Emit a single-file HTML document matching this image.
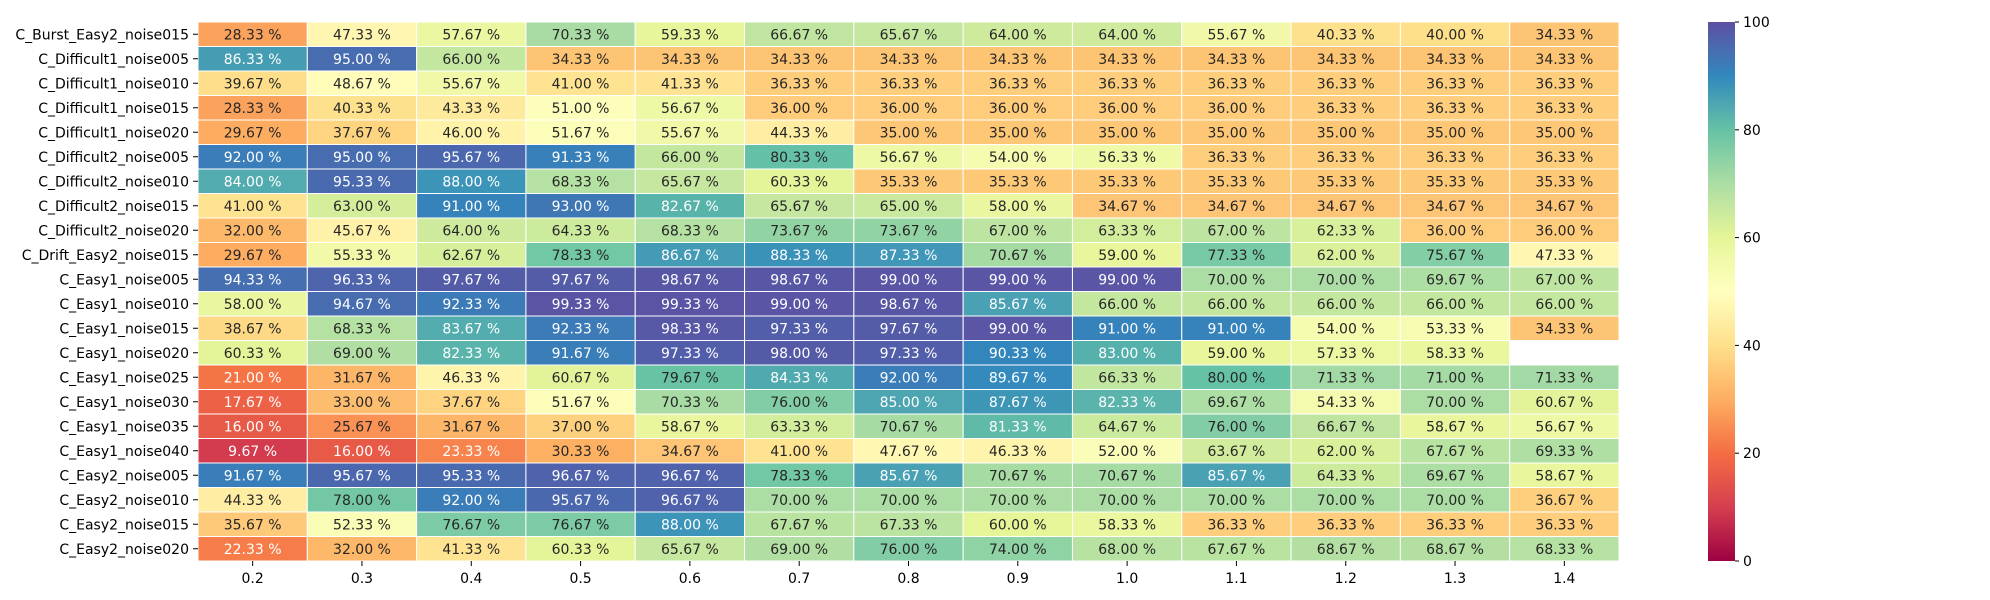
<!DOCTYPE html>
<html><head><meta charset="utf-8"><style>
body{margin:0;background:#fff;}
svg{display:block;font-family:"DejaVu Sans","Liberation Sans",sans-serif;}
</style></head><body>
<svg id="chart" width="1990" height="600"></svg>
<script>
const rowLabels=["C_Burst_Easy2_noise015","C_Difficult1_noise005","C_Difficult1_noise010","C_Difficult1_noise015","C_Difficult1_noise020","C_Difficult2_noise005","C_Difficult2_noise010","C_Difficult2_noise015","C_Difficult2_noise020","C_Drift_Easy2_noise015","C_Easy1_noise005","C_Easy1_noise010","C_Easy1_noise015","C_Easy1_noise020","C_Easy1_noise025","C_Easy1_noise030","C_Easy1_noise035","C_Easy1_noise040","C_Easy2_noise005","C_Easy2_noise010","C_Easy2_noise015","C_Easy2_noise020"];
const colLabels=["0.2","0.3","0.4","0.5","0.6","0.7","0.8","0.9","1.0","1.1","1.2","1.3","1.4"];
const values=[
[28.33,47.33,57.67,70.33,59.33,66.67,65.67,64.00,64.00,55.67,40.33,40.00,34.33],
[86.33,95.00,66.00,34.33,34.33,34.33,34.33,34.33,34.33,34.33,34.33,34.33,34.33],
[39.67,48.67,55.67,41.00,41.33,36.33,36.33,36.33,36.33,36.33,36.33,36.33,36.33],
[28.33,40.33,43.33,51.00,56.67,36.00,36.00,36.00,36.00,36.00,36.33,36.33,36.33],
[29.67,37.67,46.00,51.67,55.67,44.33,35.00,35.00,35.00,35.00,35.00,35.00,35.00],
[92.00,95.00,95.67,91.33,66.00,80.33,56.67,54.00,56.33,36.33,36.33,36.33,36.33],
[84.00,95.33,88.00,68.33,65.67,60.33,35.33,35.33,35.33,35.33,35.33,35.33,35.33],
[41.00,63.00,91.00,93.00,82.67,65.67,65.00,58.00,34.67,34.67,34.67,34.67,34.67],
[32.00,45.67,64.00,64.33,68.33,73.67,73.67,67.00,63.33,67.00,62.33,36.00,36.00],
[29.67,55.33,62.67,78.33,86.67,88.33,87.33,70.67,59.00,77.33,62.00,75.67,47.33],
[94.33,96.33,97.67,97.67,98.67,98.67,99.00,99.00,99.00,70.00,70.00,69.67,67.00],
[58.00,94.67,92.33,99.33,99.33,99.00,98.67,85.67,66.00,66.00,66.00,66.00,66.00],
[38.67,68.33,83.67,92.33,98.33,97.33,97.67,99.00,91.00,91.00,54.00,53.33,34.33],
[60.33,69.00,82.33,91.67,97.33,98.00,97.33,90.33,83.00,59.00,57.33,58.33,null],
[21.00,31.67,46.33,60.67,79.67,84.33,92.00,89.67,66.33,80.00,71.33,71.00,71.33],
[17.67,33.00,37.67,51.67,70.33,76.00,85.00,87.67,82.33,69.67,54.33,70.00,60.67],
[16.00,25.67,31.67,37.00,58.67,63.33,70.67,81.33,64.67,76.00,66.67,58.67,56.67],
[9.67,16.00,23.33,30.33,34.67,41.00,47.67,46.33,52.00,63.67,62.00,67.67,69.33],
[91.67,95.67,95.33,96.67,96.67,78.33,85.67,70.67,70.67,85.67,64.33,69.67,58.67],
[44.33,78.00,92.00,95.67,96.67,70.00,70.00,70.00,70.00,70.00,70.00,70.00,36.67],
[35.67,52.33,76.67,76.67,88.00,67.67,67.33,60.00,58.33,36.33,36.33,36.33,36.33],
[22.33,32.00,41.33,60.33,65.67,69.00,76.00,74.00,68.00,67.67,68.67,68.67,68.33]];
const cbTicks=[0,20,40,60,80,100];

const stops=["#9e0142","#d53e4f","#f46d43","#fdae61","#fee08b","#ffffbf","#e6f598","#abdda4","#66c2a5","#3288bd","#5e4fa2"].map(h=>[1,3,5].map(i=>parseInt(h.substr(i,2),16)));
function cmap(v){let t=Math.max(0,Math.min(1,v/100))*10;let i=Math.min(9,Math.floor(t));let f=t-i;return stops[i].map((c,k)=>Math.round(c+(stops[i+1][k]-c)*f));}
function lum(c){const l=c.map(x=>{x/=255;return x<=0.03928?x/12.92:Math.pow((x+0.055)/1.055,2.4)});return 0.2126*l[0]+0.7152*l[1]+0.0722*l[2];}
const NS="http://www.w3.org/2000/svg";
const svg=document.getElementById('chart');
function el(t,a,p){const e=document.createElementNS(NS,t);for(const k in a)e.setAttribute(k,a[k]);(p||svg).appendChild(e);return e;}
const X0=198,X1=1619,Y0=22,Y1=561;
const cw=(X1-X0)/colLabels.length,ch=(Y1-Y0)/rowLabels.length;
const xs=j=>X0+j*cw, ys=i=>Y0+i*ch;
const g=el('g',{});


values.forEach((row,i)=>row.forEach((v,j)=>{
  if(v===null)return;
  const c=cmap(v);
  const r=el('rect',{x:xs(j),y:ys(i),width:cw,height:ch,fill:`rgb(${c})`,stroke:'#fff','stroke-width':1},g);
  
  
  const t=el('text',{x:xs(j)+cw/2,y:ys(i)+ch/2+5,'text-anchor':'middle','font-size':14,fill:lum(c)>0.408?'#262626':'#ffffff'},g);
  
  
  t.textContent=v.toFixed(2)+' %';
}));
rowLabels.forEach((l,i)=>{
  const y=ys(i)+ch/2;
  el('line',{x1:X0-5,x2:X0,y1:y,y2:y,stroke:'#000','stroke-width':1});
  const t=el('text',{x:X0-9,y:y+5,'text-anchor':'end','font-size':14,fill:'#000'});
  
  
  t.textContent=l;
});
colLabels.forEach((l,j)=>{
  const x=xs(j)+cw/2;
  el('line',{x1:x,x2:x,y1:Y1,y2:Y1+5,stroke:'#000','stroke-width':1});
  const t=el('text',{x:x,y:Y1+22,'text-anchor':'middle','font-size':14,fill:'#000'});
  
  
  t.textContent=l;
});
const CX=1708,CW=27;
const defs=el('defs',{});
const lg=el('linearGradient',{id:'cbg',x1:0,y1:1,x2:0,y2:0},defs);
for(let k=0;k<=20;k++){const c=cmap(k*5);el('stop',{offset:k/20,'stop-color':`rgb(${c})`},lg);}
const cb=el('rect',{x:CX,y:Y0,width:CW,height:Y1-Y0,fill:'url(#cbg)'});


cbTicks.forEach(v=>{
  const y=Y1-(v/100)*(Y1-Y0);
  el('line',{x1:CX+CW,x2:CX+CW+4,y1:y,y2:y,stroke:'#000'});
  const t=el('text',{x:CX+CW+8,y:y+5,'font-size':14,fill:'#000'});
  
  
  t.textContent=v;
});
</script>
</body></html>
